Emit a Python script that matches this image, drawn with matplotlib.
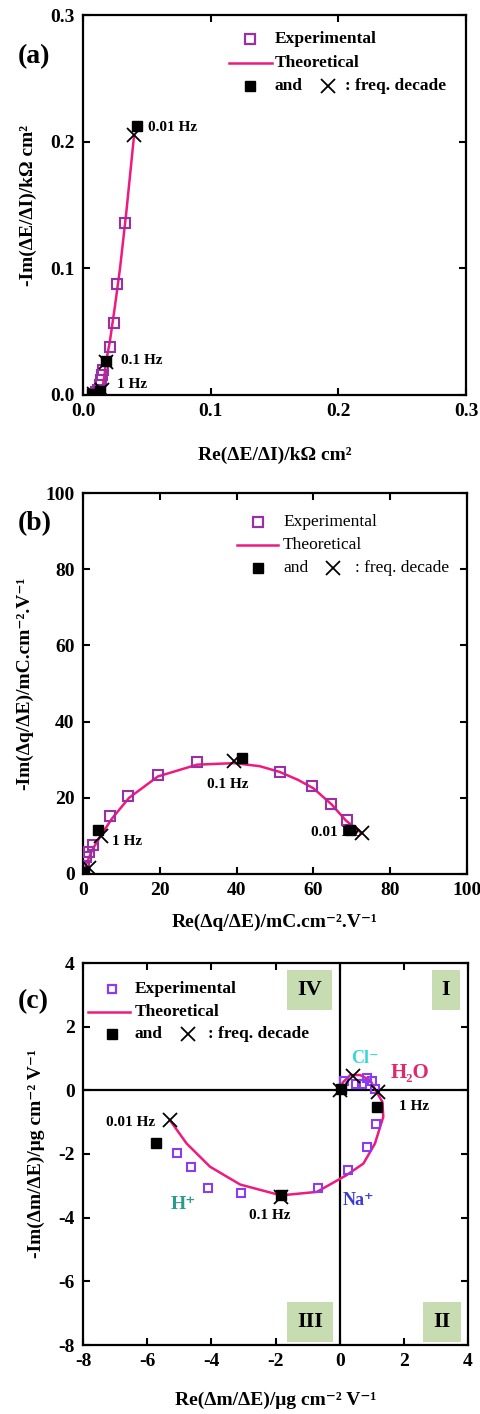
import matplotlib
matplotlib.use("Agg")
import matplotlib.pyplot as plt
from matplotlib.ticker import FormatStrFormatter, MultipleLocator

plt.rcParams['font.family'] = ['Liberation Serif', 'DejaVu Serif']
plt.rcParams['font.weight'] = 'bold'
plt.rcParams['axes.labelweight'] = 'bold'
plt.rcParams['axes.unicode_minus'] = False

# (a) electrical impedance
exp_a_re = [0.008, 0.010, 0.012, 0.013, 0.014, 0.015, 0.016, 0.021, 0.024, 0.027, 0.033]
exp_a_im = [0.001, 0.002, 0.004, 0.008, 0.012, 0.016, 0.020, 0.038, 0.057, 0.088, 0.136]
dec_a_re = [0.007, 0.013, 0.018, 0.042]
dec_a_im = [0.001, 0.003, 0.027, 0.212]
crs_a_re = [0.009, 0.015, 0.018, 0.040]
crs_a_im = [0.001, 0.004, 0.026, 0.205]
th_a_re = [0.008, 0.012, 0.015, 0.016, 0.017, 0.018, 0.021, 0.025, 0.029, 0.034, 0.040]
th_a_im = [0.001, 0.002, 0.005, 0.010, 0.017, 0.026, 0.042, 0.070, 0.100, 0.145, 0.205]

# (b) charge / potential
exp_b_re = [0.3, 0.9, 1.5, 2.6, 7.0, 11.8, 19.5, 29.7, 51.2, 59.7, 64.7, 68.7]
exp_b_im = [2.0, 4.5, 5.8, 7.6, 15.2, 20.5, 26.0, 29.3, 26.7, 23.2, 18.3, 14.2]
dec_b_re = [0.3, 3.9, 41.4, 69.6]
dec_b_im = [0.5, 11.5, 30.4, 11.5]
crs_b_re = [1.5, 4.6, 39.4, 72.6]
crs_b_im = [1.5, 10.0, 29.7, 10.7]
th_b_re = [0.0, 1.0, 2.5, 4.6, 7.5, 12.0, 19.5, 29.7, 39.4, 46.0, 51.2, 56.0, 60.0, 64.7, 68.5, 72.6]
th_b_im = [0.0, 3.0, 6.5, 10.0, 14.5, 20.0, 25.6, 28.7, 29.1, 28.3, 26.8, 24.7, 22.5, 18.3, 14.0, 10.7]

# (c) mass / potential
exp_c_re = [-5.06, -4.64, -4.09, -3.08, -0.68, 0.25, 0.84, 1.13, 1.10, 1.00, 0.85, 0.70, 0.50, 0.15]
exp_c_im = [-1.96, -2.42, -3.06, -3.22, -3.06, -2.51, -1.78, -1.06, 0.05, 0.28, 0.40, 0.20, 0.20, 0.30]
dec_c_re = [-5.73, -1.83, 1.15, 0.05]
dec_c_im = [-1.65, -3.30, -0.52, 0.05]
crs_c_re = [-5.29, -1.83, 1.20, 0.40, 0.00]
crs_c_im = [-0.94, -3.35, -0.05, 0.45, 0.00]
th_c_re = [-5.29, -4.77, -4.04, -3.10, -1.83, -0.71, -0.20, 0.22, 0.74, 1.10, 1.36, 1.33, 1.15, 0.95, 0.64, 0.33, 0.10, 0.00]
th_c_im = [-0.94, -1.67, -2.40, -2.96, -3.30, -3.19, -2.90, -2.66, -2.30, -1.67, -0.83, -0.36, -0.05, 0.32, 0.48, 0.48, 0.25, 0.00]

PURPLE = '#9a2fa6'
VIOLET = '#8a3cf0'
PINK = '#f0197d'

fig = plt.figure(figsize=(4.8, 14.14), dpi=100)
W, H = 480, 1414


def make_axes(left, top, right, bottom):
    return fig.add_axes([left / W, 1 - bottom / H, (right - left) / W, (bottom - top) / H])


def style(ax):
    for s in ax.spines.values():
        s.set_linewidth(1.6)
    ax.tick_params(direction='in', length=5, width=1.5, top=True, right=True,
                   labelsize=14, pad=6)


def key(ax, sq_x, txt_x, line_x, ys, x_x, rest_x, color, ms, weight):
    tr = ax.transAxes
    ax.plot([sq_x], [ys[0]], 's', mfc='none', mec=color, mew=1.6, ms=ms, transform=tr, clip_on=False)
    ax.text(txt_x, ys[0], 'Experimental', transform=tr, va='center', fontsize=12.5, fontweight=weight)
    ax.plot(line_x, [ys[1], ys[1]], color=PINK, lw=1.8, transform=tr, clip_on=False)
    ax.text(txt_x, ys[1], 'Theoretical', transform=tr, va='center', fontsize=12.5, fontweight=weight)
    ax.plot([sq_x], [ys[2]], 's', color='black', ms=6.5, transform=tr, clip_on=False)
    ax.text(txt_x, ys[2], 'and', transform=tr, va='center', fontsize=12.5, fontweight=weight)
    ax.plot([x_x], [ys[2]], 'x', color='black', ms=10, mew=1.3, transform=tr, clip_on=False)
    ax.text(rest_x, ys[2], ': freq. decade', transform=tr, va='center', fontsize=12.5, fontweight=weight)


def series(ax, er, ei, dr, di, cr, ci, tr_, ti, color, ms):
    ax.plot(tr_, ti, color=PINK, lw=1.8, zorder=2)
    ax.plot(er, ei, 's', mfc='none', mec=color, mew=1.5, ms=ms, zorder=3)
    ax.plot(dr, di, 's', color='black', ms=6.5, zorder=4)
    ax.plot(cr, ci, 'x', color='black', ms=10, mew=1.3, zorder=5)


# ---- (a)
ax = make_axes(83, 15, 466, 395)
style(ax)
series(ax, exp_a_re, exp_a_im, dec_a_re, dec_a_im, crs_a_re, crs_a_im, th_a_re, th_a_im, PURPLE, 7)
ax.set_xlim(0, 0.3)
ax.set_ylim(0, 0.3)
ax.xaxis.set_major_locator(MultipleLocator(0.1))
ax.yaxis.set_major_locator(MultipleLocator(0.1))
ax.xaxis.set_major_formatter(FormatStrFormatter('%.1f'))
ax.yaxis.set_major_formatter(FormatStrFormatter('%.1f'))
ax.text(0.051, 0.211, '0.01 Hz', fontsize=11, va='center')
ax.text(0.030, 0.027, '0.1 Hz', fontsize=11, va='center')
ax.text(0.027, 0.008, '1 Hz', fontsize=11, va='center')
key(ax, 0.436, 0.501, [0.381, 0.493], [0.937, 0.874, 0.813], 0.640, 0.684, PURPLE, 7, 'bold')
ax.set_xlabel('Re(ΔE/ΔI)/kΩ cm²', fontsize=14)
ax.set_ylabel('-Im(ΔE/ΔI)/kΩ cm²', fontsize=14)
ax.xaxis.set_label_coords(0.5, -0.158)
ax.xaxis.label.set_va('center')
ax.yaxis.set_label_coords(-0.144, 0.5)
ax.yaxis.label.set_va('center')
ax.text(-0.17, 0.89, '(a)', transform=ax.transAxes, fontsize=20, va='center')

# ---- (b)
ax = make_axes(83, 493, 467, 874)
style(ax)
series(ax, exp_b_re, exp_b_im, dec_b_re, dec_b_im, crs_b_re, crs_b_im, th_b_re, th_b_im, PURPLE, 7)
ax.set_xlim(0, 100)
ax.set_ylim(0, 100)
ax.xaxis.set_major_locator(MultipleLocator(20))
ax.yaxis.set_major_locator(MultipleLocator(20))
ax.text(37.6, 23.4, '0.1 Hz', fontsize=11, ha='center', va='center')
ax.text(7.6, 8.4, '1 Hz', fontsize=11, va='center')
ax.text(59.3, 10.8, '0.01 Hz', fontsize=11, va='center')
key(ax, 0.456, 0.521, [0.401, 0.508], [0.925, 0.864, 0.804], 0.651, 0.708, PURPLE, 7, 'normal')
ax.set_xlabel('Re(Δq/ΔE)/mC.cm⁻².V⁻¹', fontsize=14)
ax.set_ylabel('-Im(Δq/ΔE)/mC.cm⁻².V⁻¹', fontsize=14)
ax.xaxis.set_label_coords(0.5, -0.126)
ax.xaxis.label.set_va('center')
ax.yaxis.set_label_coords(-0.151, 0.5)
ax.yaxis.label.set_va('center')
ax.text(-0.17, 0.92, '(b)', transform=ax.transAxes, fontsize=20, va='center')

# ---- (c)
ax = make_axes(83, 963, 468, 1345)
style(ax)
ax.axhline(0, color='black', lw=1.6, zorder=1)
ax.axvline(0, color='black', lw=1.6, zorder=1)
series(ax, exp_c_re, exp_c_im, dec_c_re, dec_c_im, crs_c_re, crs_c_im, th_c_re, th_c_im, VIOLET, 6)
ax.set_xlim(-8, 4)
ax.set_ylim(-8, 4)
ax.xaxis.set_major_locator(MultipleLocator(2))
ax.yaxis.set_major_locator(MultipleLocator(2))
ax.text(-5.76, -1.0, '0.01 Hz', fontsize=11, ha='right', va='center')
ax.text(-2.17, -3.92, '0.1 Hz', fontsize=11, ha='center', va='center')
ax.text(1.85, -0.5, '1 Hz', fontsize=11, va='center')
ax.text(-4.87, -3.6, 'H⁺', fontsize=14, color='#2a9d8a', ha='center', va='center')
ax.text(0.6, -3.45, 'Na⁺', fontsize=13, color='#3a3adb', ha='center', va='center')
ax.text(0.79, 1.0, 'Cl⁻', fontsize=13, color='#3ad6d6', ha='center', va='center')
ax.text(2.19, 0.53, 'H₂O', fontsize=15, color='#e0296a', ha='center', va='center')
for lab, qx, qy in [('IV', -0.93, 3.14), ('I', 3.31, 3.14), ('III', -0.93, -7.28), ('II', 3.19, -7.28)]:
    ax.text(qx, qy, lab, fontsize=16, ha='center', va='center',
            bbox=dict(boxstyle='square,pad=0.45', fc='#c8dcb2', ec='none'))
key(ax, 0.0745, 0.135, [0.013, 0.122], [0.932, 0.873, 0.814], 0.273, 0.325, VIOLET, 6, 'bold')
ax.set_xlabel('Re(Δm/ΔE)/μg cm⁻² V⁻¹', fontsize=14)
ax.set_ylabel('-Im(Δm/ΔE)/μg cm⁻² V⁻¹', fontsize=14)
ax.xaxis.set_label_coords(0.5, -0.144)
ax.xaxis.label.set_va('center')
ax.yaxis.set_label_coords(-0.122, 0.5)
ax.yaxis.label.set_va('center')
ax.text(-0.17, 0.9, '(c)', transform=ax.transAxes, fontsize=20, va='center')

fig.savefig('out.png', dpi=100)
